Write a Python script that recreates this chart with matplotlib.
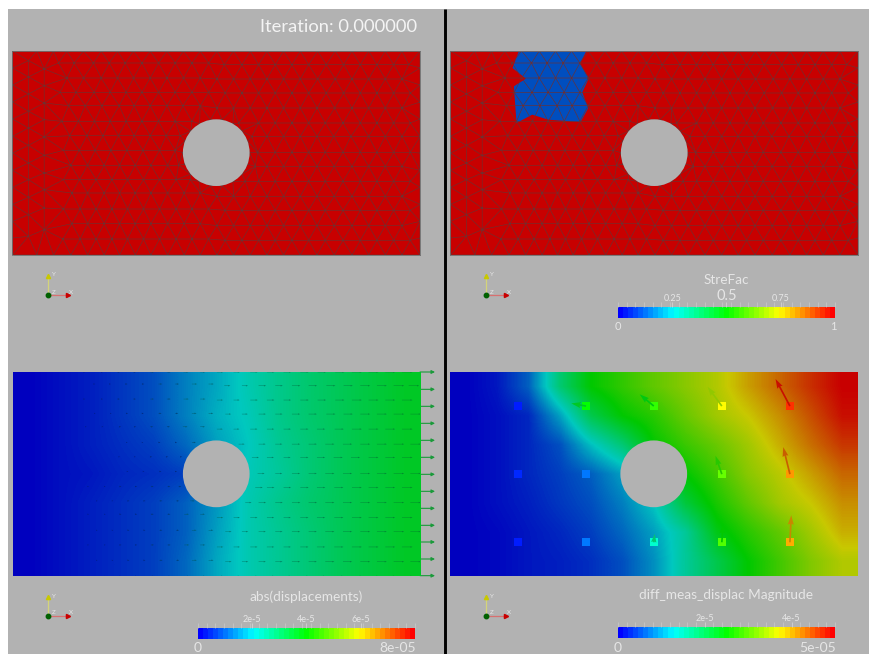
import numpy as np
import matplotlib
matplotlib.use("Agg")
import matplotlib.pyplot as plt
import matplotlib.tri as mtri
from matplotlib.colors import LinearSegmentedColormap
from matplotlib.patches import Circle, Polygon, Rectangle

plt.rcParams['font.family'] = ['Lato', 'DejaVu Sans']

# mesh nodes, one list of x per row
# rows sit a little higher left of the hole than right of it
row_y_left = [190, 235, 278, 318, 365, 408, 452, 497, 540, 580, 628, 672, 718, 766, 154]
row_y_right = [195, 238, 280, 325, 370, 410, 458, 500, 545, 590, 632, 678, 722, 766, 154]
row_x = [
    [175, 222, 280, 327, 375, 425, 475, 525, 575, 625, 672, 725, 775, 825, 875, 925, 978, 1030, 1080, 1130, 1180, 1225],
    [200, 250, 303, 352, 400, 450, 500, 550, 600, 650, 700, 750, 800, 850, 900, 952, 1005, 1055, 1105, 1155, 1205],
    [180, 228, 282, 330, 378, 425, 475, 525, 575, 625, 675, 725, 775, 825, 875, 925, 978, 1030, 1080, 1130, 1180, 1230],
    [205, 255, 305, 357, 402, 450, 500, 548, 600, 650, 700, 750, 800, 850, 900, 950, 1003, 1055, 1105, 1155, 1205],
    [185, 235, 283, 330, 378, 425, 475, 525, 575, 715, 775, 825, 875, 925, 975, 1028, 1080, 1130, 1180, 1230],
    [208, 260, 308, 355, 402, 450, 498, 540, 755, 800, 850, 900, 950, 1000, 1052, 1105, 1155, 1205],
    [190, 237, 285, 332, 380, 428, 478, 525, 772, 825, 875, 925, 975, 1028, 1080, 1130, 1180, 1230],
    [212, 262, 312, 358, 405, 452, 502, 535, 765, 800, 850, 900, 950, 1002, 1055, 1105, 1155, 1205],
    [190, 238, 288, 335, 382, 430, 478, 528, 570, 735, 775, 825, 875, 925, 975, 1028, 1080, 1130, 1180, 1230],
    [215, 262, 312, 358, 405, 452, 502, 552, 600, 650, 700, 750, 800, 850, 900, 950, 1002, 1055, 1105, 1155, 1205],
    [190, 240, 288, 335, 382, 430, 478, 528, 575, 625, 675, 725, 775, 825, 875, 925, 975, 1028, 1080, 1130, 1180, 1230],
    [215, 262, 312, 358, 405, 452, 502, 552, 600, 650, 700, 750, 800, 850, 900, 950, 1002, 1055, 1105, 1155, 1205],
    [188, 240, 288, 335, 382, 430, 478, 528, 575, 625, 675, 725, 775, 825, 875, 925, 975, 1028, 1080, 1130, 1180, 1230],
    [110, 160, 212, 262, 312, 358, 405, 452, 502, 552, 600, 650, 700, 750, 800, 850, 900, 950, 1002, 1055, 1105, 1155, 1205],
    [110, 160, 200, 250, 303, 352, 400, 450, 500, 550, 600, 650, 700, 750, 800, 850, 900, 952, 1005, 1055, 1105, 1155, 1205],
]
edge_y = [154, 205, 256, 307, 358, 410, 460, 512, 563, 614, 665, 715, 766]
col85_y = [183, 232, 283, 335, 385, 437, 490, 540, 593, 645, 710]
col132_y = [208, 258, 310, 360, 412, 467, 520, 570, 625, 690]

# hole of the plate and the nodes on its rim
hole_x, hole_y, hole_r = 648, 459, 100
rim_deg = [0, 20, 40, 60, 80, 100, 120, 140, 160, 180, 200, 220, 240, 260, 280, 300, 320, 340]

# elements with the low stress factor, top right panel
blue_x = [242, 223, 263, 227, 235, 282, 330, 427, 450, 432, 452, 425, 444]
blue_y = [155, 205, 237, 260, 370, 345, 360, 367, 325, 278, 235, 192, 155]

# fields, fraction of the colour range, sampled on a 13 x 7 grid
grid_cols = [0, 102, 203, 305, 407, 509, 610, 712, 814, 916, 1017, 1119, 1221]
grid_rows = [0, 102, 204, 306, 407, 509, 611]
abs_disp = [
    [0, .02, .04, .07, .10, .16, .21, .27, .32, .36, .39, .42, .45],
    [0, .02, .04, .07, .10, .16, .22, .26, .32, .36, .39, .42, .45],
    [0, .02, .04, .06, .08, .13, .20, .25, .31, .35, .39, .42, .45],
    [0, .02, .03, .05, .06, .08, .17, .26, .30, .35, .39, .42, .45],
    [0, .02, .04, .06, .08, .12, .19, .27, .32, .36, .39, .42, .45],
    [0, .02, .04, .06, .08, .12, .20, .27, .31, .35, .39, .42, .45],
    [0, .02, .04, .06, .08, .13, .21, .27, .31, .35, .39, .42, .45],
]
diff_meas = [
    [0, .03, .12, .35, .50, .56, .62, .67, .72, .80, .87, .94, 1.0],
    [0, .02, .05, .20, .40, .50, .55, .63, .70, .75, .82, .90, .98],
    [0, .02, .05, .10, .24, .35, .50, .57, .63, .70, .78, .86, .93],
    [0, .02, .05, .08, .12, .20, .35, .50, .58, .67, .73, .80, .87],
    [0, .02, .04, .07, .10, .16, .25, .42, .53, .62, .70, .75, .82],
    [0, .01, .03, .05, .08, .13, .20, .30, .47, .55, .62, .70, .78],
    [0, .01, .03, .04, .06, .10, .18, .30, .40, .50, .58, .66, .72],
]

# measurement points of the last panel and their arrows
sensor_x = [221, 424, 627, 831, 1035, 221, 424, 831, 1035, 221, 424, 627, 831, 1035]
sensor_y = [123, 123, 123, 123, 123, 327, 327, 327, 327, 531, 531, 531, 531, 531]
sensor_val = [.03, .5, .55, .75, .95, .04, .12, .6, .85, .03, .12, .3, .58, .83]
sensor_u = [0, -44, -42, -43, -43, 0, 0, -19, -20, 0, 0, 3, 4, 4]
sensor_v = [0, -8, -35, -58, -81, 0, 0, -55, -81, 0, 0, -25, -55, -81]
arrow_val = [0, .45, .48, .68, .98, 0, 0, .55, .88, 0, 0, .35, .5, .83]

edge_arrow_y = [21, 73, 124, 175, 226, 277, 328, 379, 430, 481, 531, 582, 632]

bar_levels = 43
strefac_ticks = [.25, .5, .75]
strefac_labels = ['0.25', '0.5', '0.75']
abs_ticks = [2e-5, 4e-5, 6e-5]
abs_labels = ['2e-5', '4e-5', '6e-5']
diff_ticks = [2e-5, 4e-5]
diff_labels = ['2e-5', '4e-5']

GREY = '#b2b2b2'
TXT = '#e6e6e6'
rainbow = LinearSegmentedColormap.from_list('rb', ['#0000ff', '#00ffff', '#00ff00', '#ffff00', '#ff0000'], 256)
lit = LinearSegmentedColormap.from_list('lit', ['#0000bf', '#00c8bf', '#00c800', '#c8c800', '#c80000'], 256)
dark = LinearSegmentedColormap.from_list('dark', ['#00006a', '#006a60', '#007a20', '#808000', '#a00000'], 256)

W, H = 870, 654
fig = plt.figure(figsize=(W / 100, H / 100), dpi=100, facecolor='white')

bg = fig.add_axes([0, 0, 1, 1], zorder=0)
bg.set_xlim(0, W)
bg.set_ylim(H, 0)
bg.axis('off')
bg.add_patch(Rectangle((8, 9), W - 8, H - 9, fc=GREY, ec='none'))
bg.plot([445, 445], [9, H], color='black', lw=2.1, solid_capstyle='butt')


def px_axes(x0, y0, x1, y1, zorder=2):
    ax = fig.add_axes([x0 / W, 1 - y1 / H, (x1 - x0) / W, (y1 - y0) / H], zorder=zorder)
    ax.set_xticks([])
    ax.set_yticks([])
    return ax


def triad(ox, oy):
    bg.plot([ox, ox], [oy, oy - 17], color='#d4d47a', lw=0.9)
    bg.plot([ox, ox + 18], [oy, oy], color='#d87070', lw=0.9)
    bg.plot([ox], [oy - 19], marker='^', ms=3, color='#c8c800')
    bg.plot([ox + 20], [oy], marker='>', ms=3, color='#c80000')
    bg.plot([ox], [oy], marker='o', ms=3.2, color='#006000')
    bg.text(ox + 3, oy - 20, 'Y', color=TXT, fontsize=4.5, va='center')
    bg.text(ox + 20, oy - 3, 'X', color=TXT, fontsize=4.5, va='center')
    bg.text(ox + 3, oy - 3, 'Z', color=TXT, fontsize=4.5, va='center')


def colorbar(x0, y0, vmax, ticks, labels, title, title_y, end_label, end_x, end_y=648, big=None):
    ax = px_axes(x0, y0, x0 + 217, y0 + 11)
    ax.imshow(np.arange(bar_levels)[None, :], cmap=rainbow, aspect='auto', extent=(0, vmax, 0, 1), interpolation='nearest')
    ax.set_xlim(0, vmax)
    for s in ax.spines.values():
        s.set_visible(False)
    ax.xaxis.tick_top()
    ax.set_xticks(np.linspace(0, vmax, 26), minor=True)
    ax.tick_params(axis='x', which='minor', length=3.5, width=0.4, color='#d0d0d0', top=True, bottom=False)
    ax.set_xticks(ticks)
    ax.set_xticklabels(labels, color=TXT, fontsize=6.5)
    ax.tick_params(axis='x', which='major', length=3.5, width=0.5, color='#d8d8d8', pad=-0.5, top=True, bottom=False)
    if big is not None:
        ax.get_xticklabels()[big].set_fontsize(10.5)
    bg.text(x0 + 108.5, title_y, title, color=TXT, fontsize=9.8, ha='center', va='center')
    bg.text(x0, end_y, '0', color=TXT, fontsize=10 if end_y > 640 else 8, ha='center', va='center')
    bg.text(end_x, end_y, end_label, color=TXT, fontsize=10 if end_y > 640 else 8, ha='center', va='center')


# mesh
nx = []
ny = []
for xs, yl, yr in zip(row_x, row_y_left, row_y_right):
    for x in xs:
        nx.append(x)
        ny.append(yl if x < hole_x else yr)
rim = np.radians(rim_deg)
nx = nx + [37] * len(edge_y) + [1259] * len(edge_y) + [85] * len(col85_y) + [132] * len(col132_y) + list(hole_x + hole_r * np.cos(rim))
ny = ny + edge_y + edge_y + col85_y + col132_y + list(hole_y + hole_r * np.sin(rim))
nx = np.array(nx, dtype=float)
ny = np.array(ny, dtype=float)
mesh = mtri.Triangulation(nx, ny)
n_mesh = len(nx) - len(rim)


def plate(x0, y0, xlim, ylim):
    ax = px_axes(x0, y0, x0 + 407.5, y0 + 204)
    ax.set_xlim(*xlim)
    ax.set_ylim(ylim[1], ylim[0])
    for s in ax.spines.values():
        s.set_linewidth(0.6)
        s.set_color('#707070')
    return ax


top_lim = ((37, 1259), (154, 766))
ax1 = plate(12.5, 51, *top_lim)
ax1.set_facecolor('#c80000')
ax1.triplot(mesh, color='#6e3030', lw=0.45)
ax1.add_patch(Circle((hole_x, hole_y), hole_r, fc=GREY, ec='none', zorder=5))

ax2 = plate(450.5, 51, *top_lim)
ax2.set_facecolor('#c80000')
ax2.add_patch(Polygon(np.column_stack([blue_x, blue_y]), fc=lit(0.1), ec='none'))
ax2.triplot(mesh, color='#6e3030', lw=0.45)
ax2.add_patch(Circle((hole_x, hole_y), hole_r, fc=GREY, ec='none', zorder=5))

# displacement field and arrows
ax3 = plate(12.5, 372, (37, 1259), (21, 632))
ax3.set_facecolor(GREY)
ax3.imshow(abs_disp, cmap=lit, vmin=0, vmax=1, aspect='auto', interpolation='bilinear',
           extent=(37, 1259, 632, 21), clip_on=True)
ax3.set_xlim(37, 1259)
ax3.set_ylim(632, 21)
mx = nx[:n_mesh] - 37
my = ny[:n_mesh] - 154
ci = np.clip(np.searchsorted(grid_cols, mx), 0, len(grid_cols) - 1)
ri = np.clip(np.searchsorted(grid_rows, my), 0, len(grid_rows) - 1)
node_val = np.array(abs_disp)[ri, ci]
keep = (nx[:n_mesh] < 1259) & (node_val > 0.05)
ax3.quiver(nx[:n_mesh][keep], ny[:n_mesh][keep] - 133, node_val[keep] * 70, np.zeros(keep.sum()), node_val[keep],
           cmap=dark, norm=plt.Normalize(0, 1), angles='xy', scale_units='xy', scale=1, alpha=0.75,
           width=0.0012, headwidth=3, headlength=4, zorder=3)
ax3.add_patch(Circle((hole_x, hole_y - 133), hole_r, fc=GREY, ec='none', zorder=5))
for s in ax3.spines.values():
    s.set_visible(False)

# arrows past the right edge, drawn on the background layer
for ay in edge_arrow_y:
    py = 365 + ay / 3
    bg.annotate('', xy=(435, py), xytext=(420, py),
                arrowprops=dict(arrowstyle='-|>', color='#1a9a3a', lw=0.8, mutation_scale=5, shrinkA=0, shrinkB=0))

ax4 = plate(450.5, 372, (18, 1239), (21, 632))
ax4.imshow(diff_meas, cmap=lit, vmin=0, vmax=1, aspect='auto', interpolation='bilinear', extent=(18, 1239, 632, 21))
ax4.set_xlim(18, 1239)
ax4.set_ylim(632, 21)
ax4.scatter(sensor_x, sensor_y, c=sensor_val, cmap=rainbow, vmin=0, vmax=1, marker='s', s=32, linewidths=0, zorder=3)
ax4.quiver(sensor_x, sensor_y, sensor_u, sensor_v, arrow_val, cmap=lit, norm=plt.Normalize(0, 1),
           angles='xy', scale_units='xy', scale=1, width=0.0042, headwidth=3.5, headlength=5.5, headaxislength=5,
           minlength=0, zorder=4)
ax4.add_patch(Circle((627, 326), hole_r, fc=GREY, ec='none', zorder=5))
for s in ax4.spines.values():
    s.set_visible(False)

for ox, oy in [(48.5, 295), (486.5, 295), (48.5, 616), (486.5, 616)]:
    triad(ox, oy)

colorbar(618, 307, 1, strefac_ticks, strefac_labels, 'StreFac', 280, '1', 833, end_y=327, big=1)
colorbar(198, 628, 8e-5, abs_ticks, abs_labels, 'abs(displacements)', 597, '8e-05', 398)
colorbar(618, 627, 5e-5, diff_ticks, diff_labels, 'diff_meas_displac Magnitude', 595, '5e-05', 818)

bg.text(417, 27, 'Iteration: 0.000000', color='#f4f4f4', fontsize=13.2, ha='right', va='center')

fig.savefig('out.png', dpi=100, facecolor='white')
